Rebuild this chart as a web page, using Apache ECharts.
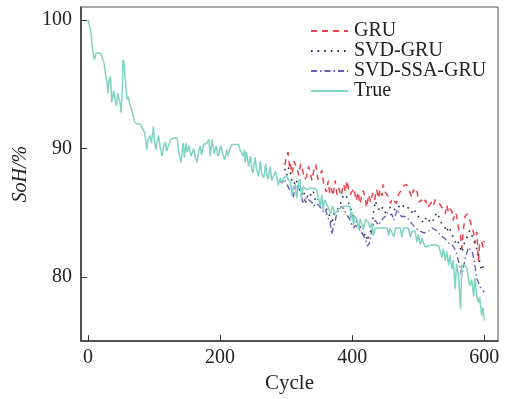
<!DOCTYPE html>
<html>
<head>
<meta charset="utf-8">
<script src="https://cdn.jsdelivr.net/npm/echarts@6/dist/echarts.min.js"></script>
<style>
  html, body { margin: 0; padding: 0; background: #fff; }
  #main { width: 505px; height: 399px; }
</style>
</head>
<body>
<div id="main"></div>
<script>
// 循环次数 / SoH 数据
var xTicks = [0, 200, 400, 600];
var yTicks = [80, 90, 100];

var trueCycle = [0, 2, 4, 6, 8, 10, 12, 15, 19, 22, 24, 27, 29, 30, 32, 34, 36, 38, 39, 41, 43, 45, 47, 49, 50, 52, 53, 55, 56, 58, 59, 61, 64, 66, 67, 69, 71, 75, 79, 82, 84, 86, 89, 91, 94, 96, 99, 101, 103, 105, 107, 109, 112, 115, 117, 119, 122, 124, 125, 130, 135, 137, 139, 141, 143, 144, 146, 148, 150, 153, 156, 160, 163, 165, 168, 170, 172, 175, 180, 183, 185, 188, 191, 194, 197, 201, 204, 207, 210, 212, 215, 218, 223, 228, 230, 232, 235, 237, 238, 240, 243, 246, 248, 250, 253, 255, 258, 261, 263, 266, 269, 271, 273, 276, 278, 281, 284, 286, 288, 291, 293, 296, 300, 302, 305, 307, 309, 311, 314, 316, 319, 321, 323, 326, 331, 336, 341, 346, 349, 352, 354, 356, 358, 361, 364, 367, 370, 372, 374, 377, 380, 382, 387, 392, 397, 398, 400, 402, 404, 407, 410, 412, 415, 417, 420, 422, 425, 427, 430, 432, 435, 437, 442, 447, 450, 453, 455, 457, 460, 463, 466, 473, 475, 478, 485, 488, 490, 495, 498, 500, 503, 506, 508, 511, 515, 518, 522, 526, 531, 534, 536, 538, 541, 543, 546, 548, 551, 553, 556, 558, 561, 564, 566, 571, 574, 576, 578, 581, 584, 586, 589, 591, 593, 596, 598, 600];
var trueSoH = [100, 100, 99.2, 98.2, 97.3, 96.9, 97.4, 97.5, 97.4, 97.0, 96.7, 95.6, 95.1, 94.3, 95.3, 95.6, 93.6, 94.2, 94.5, 93.8, 93.3, 94.3, 94.2, 93.4, 92.8, 94.6, 96.9, 96.6, 95.6, 94.5, 93.8, 94.0, 93.3, 93.0, 92.8, 92.4, 92.0, 91.9, 91.9, 91.6, 91.5, 91.2, 89.9, 90.7, 91.0, 90.4, 91.7, 90.5, 89.9, 90.6, 91.0, 90.2, 89.4, 90.2, 90.5, 89.8, 89.7, 90.5, 90.7, 90.8, 90.8, 89.9, 89.3, 88.9, 90.0, 90.4, 89.3, 90.4, 89.7, 90.2, 89.4, 90.0, 89.2, 88.9, 89.9, 90.2, 89.5, 90.3, 90.4, 90.7, 89.4, 90.7, 89.6, 90.2, 89.4, 90.2, 89.6, 89.1, 89.9, 89.4, 90.0, 90.3, 90.3, 90.3, 89.9, 89.8, 89.4, 89.9, 88.9, 89.7, 88.6, 89.4, 88.4, 88.1, 89.3, 88.5, 87.8, 89.0, 88.0, 87.7, 88.8, 87.9, 87.6, 88.6, 87.5, 87.35, 88.2, 87.7, 87.1, 87.7, 87.3, 87.7, 87.85, 87.8, 87.5, 87.3, 86.3, 87.0, 87.2, 86.1, 87.4, 87.6, 86.1, 87.0, 86.8, 86.9, 86.9, 86.8, 86.1, 85.5, 86.4, 85.1, 86.0, 85.9, 85.4, 84.9, 85.5, 85.4, 84.9, 84.9, 85.3, 85.3, 85.5, 85.5, 85.5, 84.5, 85.0, 84.0, 84.7, 84.5, 83.7, 84.5, 84.4, 83.7, 84.5, 84.5, 84.2, 83.8, 84.2, 83.2, 83.8, 83.8, 83.8, 83.8, 83.8, 83.8, 83.2, 83.8, 83.8, 83.1, 83.8, 83.8, 83.1, 83.8, 83.8, 83.1, 83.5, 83.6, 82.7, 83.3, 82.5, 83.0, 82.6, 82.3, 82.4, 82.5, 82.5, 82.5, 82.4, 82.4, 81.5, 82.2, 81.25, 82.0, 80.9, 81.7, 80.6, 81.3, 79.05, 81.0, 80.1, 77.5, 80.9, 80.9, 80.6, 80.6, 79.3, 79.8, 78.5, 79.9, 78.4, 78.0, 78.4, 77.0, 77.6, 76.6];

var gruCycle = [298, 301, 303, 305, 306, 309, 312, 314, 317, 319, 322, 325, 328, 331, 334, 336, 339, 342, 345, 348, 351, 354, 357, 359, 361, 364, 366, 368, 371, 374, 377, 380, 383, 387, 390, 392, 395, 397, 400, 403, 406, 409, 412, 415, 417, 420, 422, 425, 428, 431, 434, 437, 440, 442, 445, 447, 450, 452, 455, 458, 461, 464, 467, 470, 474, 478, 482, 485, 488, 490, 493, 495, 498, 501, 505, 508, 511, 514, 518, 521, 523, 526, 530, 533, 536, 538, 541, 543, 546, 548, 551, 553, 556, 558, 561, 564, 566, 568, 571, 574, 577, 579, 581, 584, 586, 589, 591, 593, 596, 598, 600];
var gruSoH = [88.7, 89.5, 89.7, 88.6, 88.9, 88.0, 89.0, 89.1, 88.3, 87.9, 88.8, 88.3, 87.6, 87.8, 88.6, 88.2, 87.5, 88.3, 88.75, 87.6, 87.8, 88.3, 87.2, 87.3, 86.6, 87.5, 86.5, 86.9, 86.3, 87.5, 86.4, 86.9, 86.3, 87.2, 86.6, 87.5, 86.7, 86.4, 86.3, 86.9, 85.9, 86.6, 85.65, 86.5, 86.7, 86.0, 85.4, 86.4, 85.8, 86.5, 86.0, 86.8, 86.1, 86.8, 86.3, 87.2, 86.6, 86.5, 86.2, 85.7, 86.1, 86.2, 85.7, 86.4, 86.7, 87.1, 87.2, 87.2, 86.5, 86.2, 86.8, 86.5, 86.7, 85.8, 86.0, 85.7, 86.0, 85.4, 85.65, 85.9, 85.6, 86.0, 85.9, 85.9, 85.4, 85.5, 84.9, 85.6, 85.0, 85.3, 85.1, 84.4, 85.0, 84.8, 83.8, 83.2, 82.2, 83.5, 84.7, 84.9, 84.9, 84.3, 84.2, 83.4, 82.6, 83.5, 81.2, 82.5, 82.8, 82.3, 82.8];

var svdCycle = [298, 301, 304, 306, 309, 312, 315, 318, 321, 324, 327, 329, 332, 335, 338, 341, 344, 346, 349, 352, 356, 359, 362, 365, 367, 369, 372, 375, 379, 382, 385, 387, 391, 394, 397, 400, 402, 405, 408, 410, 413, 415, 417, 420, 423, 426, 430, 432, 435, 438, 440, 443, 446, 450, 455, 460, 465, 470, 475, 479, 483, 487, 490, 494, 497, 500, 503, 506, 508, 512, 516, 519, 523, 526, 528, 532, 535, 538, 541, 543, 546, 549, 552, 556, 559, 562, 566, 569, 572, 575, 578, 581, 584, 587, 591, 593, 596, 598, 600];
var svdSoH = [88.4, 87.9, 88.5, 88.2, 87.4, 87.2, 87.6, 87.0, 87.2, 86.4, 86.7, 85.65, 86.3, 86.1, 86.5, 86.7, 86.0, 86.2, 86.0, 85.9, 85.7, 85.5, 85.2, 84.9, 84.5, 84.1, 84.8, 85.2, 85.3, 85.65, 86.1, 86.4, 86.3, 86.2, 85.4, 85.0, 84.7, 84.8, 84.2, 84.3, 83.8, 83.5, 83.1, 83.4, 82.8, 83.3, 83.8, 84.9, 85.9, 85.5, 85.3, 85.1, 85.4, 85.0, 85.3, 85.5, 85.2, 85.5, 85.3, 85.6, 85.5, 85.2, 85.0, 85.3, 84.8, 84.9, 84.6, 84.5, 84.2, 84.6, 84.3, 84.6, 84.4, 84.8, 85.0, 84.6, 84.2, 84.0, 83.8, 83.5, 83.9, 83.6, 83.2, 82.7, 82.9, 82.5, 81.9, 82.5, 82.9, 83.2, 83.6, 83.5, 82.9, 82.4, 81.9, 81.2, 80.5, 80.8, 80.5];

var ssaCycle = [291, 294, 297, 300, 303, 306, 309, 311, 313, 316, 319, 322, 325, 328, 331, 334, 336, 339, 342, 345, 349, 352, 354, 357, 360, 363, 366, 367, 369, 371, 374, 377, 380, 384, 387, 390, 393, 396, 399, 402, 405, 408, 411, 414, 417, 420, 423, 426, 429, 432, 435, 437, 440, 443, 446, 450, 453, 456, 460, 463, 466, 468, 471, 475, 478, 482, 485, 488, 491, 493, 496, 499, 502, 505, 509, 513, 517, 521, 524, 528, 531, 534, 537, 540, 543, 547, 551, 555, 558, 561, 564, 566, 569, 572, 576, 579, 582, 585, 589, 591, 594, 597, 600];
var ssaSoH = [87.5, 87.3, 87.6, 87.7, 87.0, 86.7, 86.5, 86.2, 86.9, 87.1, 86.9, 86.6, 85.8, 86.0, 86.2, 86.0, 86.1, 85.8, 85.5, 85.7, 85.6, 85.4, 85.5, 85.0, 85.2, 84.6, 84.4, 84.1, 83.3, 83.8, 84.3, 85.0, 85.2, 85.5, 85.3, 85.0, 84.9, 84.5, 84.1, 83.8, 84.0, 84.1, 83.7, 83.5, 83.2, 82.9, 82.4, 82.6, 83.4, 84.0, 84.4, 84.5, 84.0, 84.3, 84.5, 84.7, 85.0, 84.8, 84.9, 84.4, 84.9, 85.25, 84.9, 84.7, 84.8, 84.7, 84.6, 84.3, 84.1, 84.0, 83.8, 83.7, 83.6, 83.5, 83.4, 83.5, 83.6, 83.8, 83.9, 83.6, 83.4, 83.2, 83.1, 83.0, 82.8, 82.6, 82.5, 82.2, 81.8, 81.2, 80.6, 80.1, 80.9, 81.6, 82.3, 82.2, 81.9, 81.2, 79.8, 79.6, 79.2, 79.0, 78.8];

function pairs(xs, ys) {
  var out = [];
  for (var i = 0; i < xs.length; i++) out.push([xs[i], ys[i]]);
  return out;
}

var font = '"Liberation Serif", "Times New Roman", serif';

function initChart(dom) {
  var chart = echarts.init(dom, null, { renderer: 'canvas' });

  var option = {
    animation: false,
    backgroundColor: '#fff',
    grid: {
      left: 81, right: 7, top: 7, bottom: 56,
      show: true, borderColor: '#555', borderWidth: 1
    },
    legend: {
      orient: 'vertical',
      left: 305, top: 16,
      itemWidth: 37, itemHeight: 10, itemGap: 0,
      itemStyle: { opacity: 0 },
      textStyle: { fontFamily: font, fontSize: 20, color: '#222', lineHeight: 19.5, padding: [0, 0, 0, 1] },
      data: ['GRU', 'SVD-GRU', 'SVD-SSA-GRU', 'True']
    },
    xAxis: {
      type: 'value',
      min: -10.6, max: 620.8,
      name: 'Cycle', nameLocation: 'middle', nameGap: 28,
      nameTextStyle: { fontFamily: font, fontSize: 21, color: '#222' },
      axisLine: { onZero: false, lineStyle: { color: '#333', width: 1.5 } },
      axisTick: { inside: true, length: 6, customValues: xTicks, lineStyle: { color: '#333' } },
      axisLabel: { customValues: xTicks, fontFamily: font, fontSize: 20, color: '#222', margin: 7 },
      splitLine: { show: false }
    },
    yAxis: {
      type: 'value',
      min: 75, max: 101,
      name: 'SoH/%', nameLocation: 'middle', nameGap: 47,
      nameTextStyle: { fontFamily: font, fontSize: 20, color: '#222', fontStyle: 'italic' },
      axisLine: { show: true, onZero: false, lineStyle: { color: '#333', width: 1.5 } },
      axisTick: { show: true, inside: true, length: 6, customValues: yTicks, lineStyle: { color: '#333' } },
      axisLabel: { customValues: yTicks, fontFamily: font, fontSize: 20, color: '#222', margin: 9 },
      splitLine: { show: false }
    },
    series: [{
      name: 'GRU',
      type: 'line',
      data: pairs(gruCycle, gruSoH),
      symbol: 'none',
      color: '#e8434c',
      lineStyle: { color: '#e8434c', width: 1.5, type: [6, 5] }
    }, {
      name: 'SVD-GRU',
      type: 'line',
      data: pairs(svdCycle, svdSoH),
      symbol: 'none',
      color: '#2b2a55',
      lineStyle: { color: '#2b2a55', width: 1.6, type: [1.6, 5] }
    }, {
      name: 'SVD-SSA-GRU',
      type: 'line',
      data: pairs(ssaCycle, ssaSoH),
      symbol: 'none',
      color: '#6a5cbd',
      lineStyle: { color: '#6a5cbd', width: 1.4, type: [6, 3, 1.5, 3] }
    }, {
      name: 'True',
      type: 'line',
      data: pairs(trueCycle, trueSoH),
      symbol: 'none',
      color: '#7fd3c1',
      lineStyle: { color: '#7fd3c1', width: 1.5 }
    }]
  };
  chart.setOption(option);
  return chart;
}

initChart(document.getElementById('main'));
</script>
</body>
</html>
